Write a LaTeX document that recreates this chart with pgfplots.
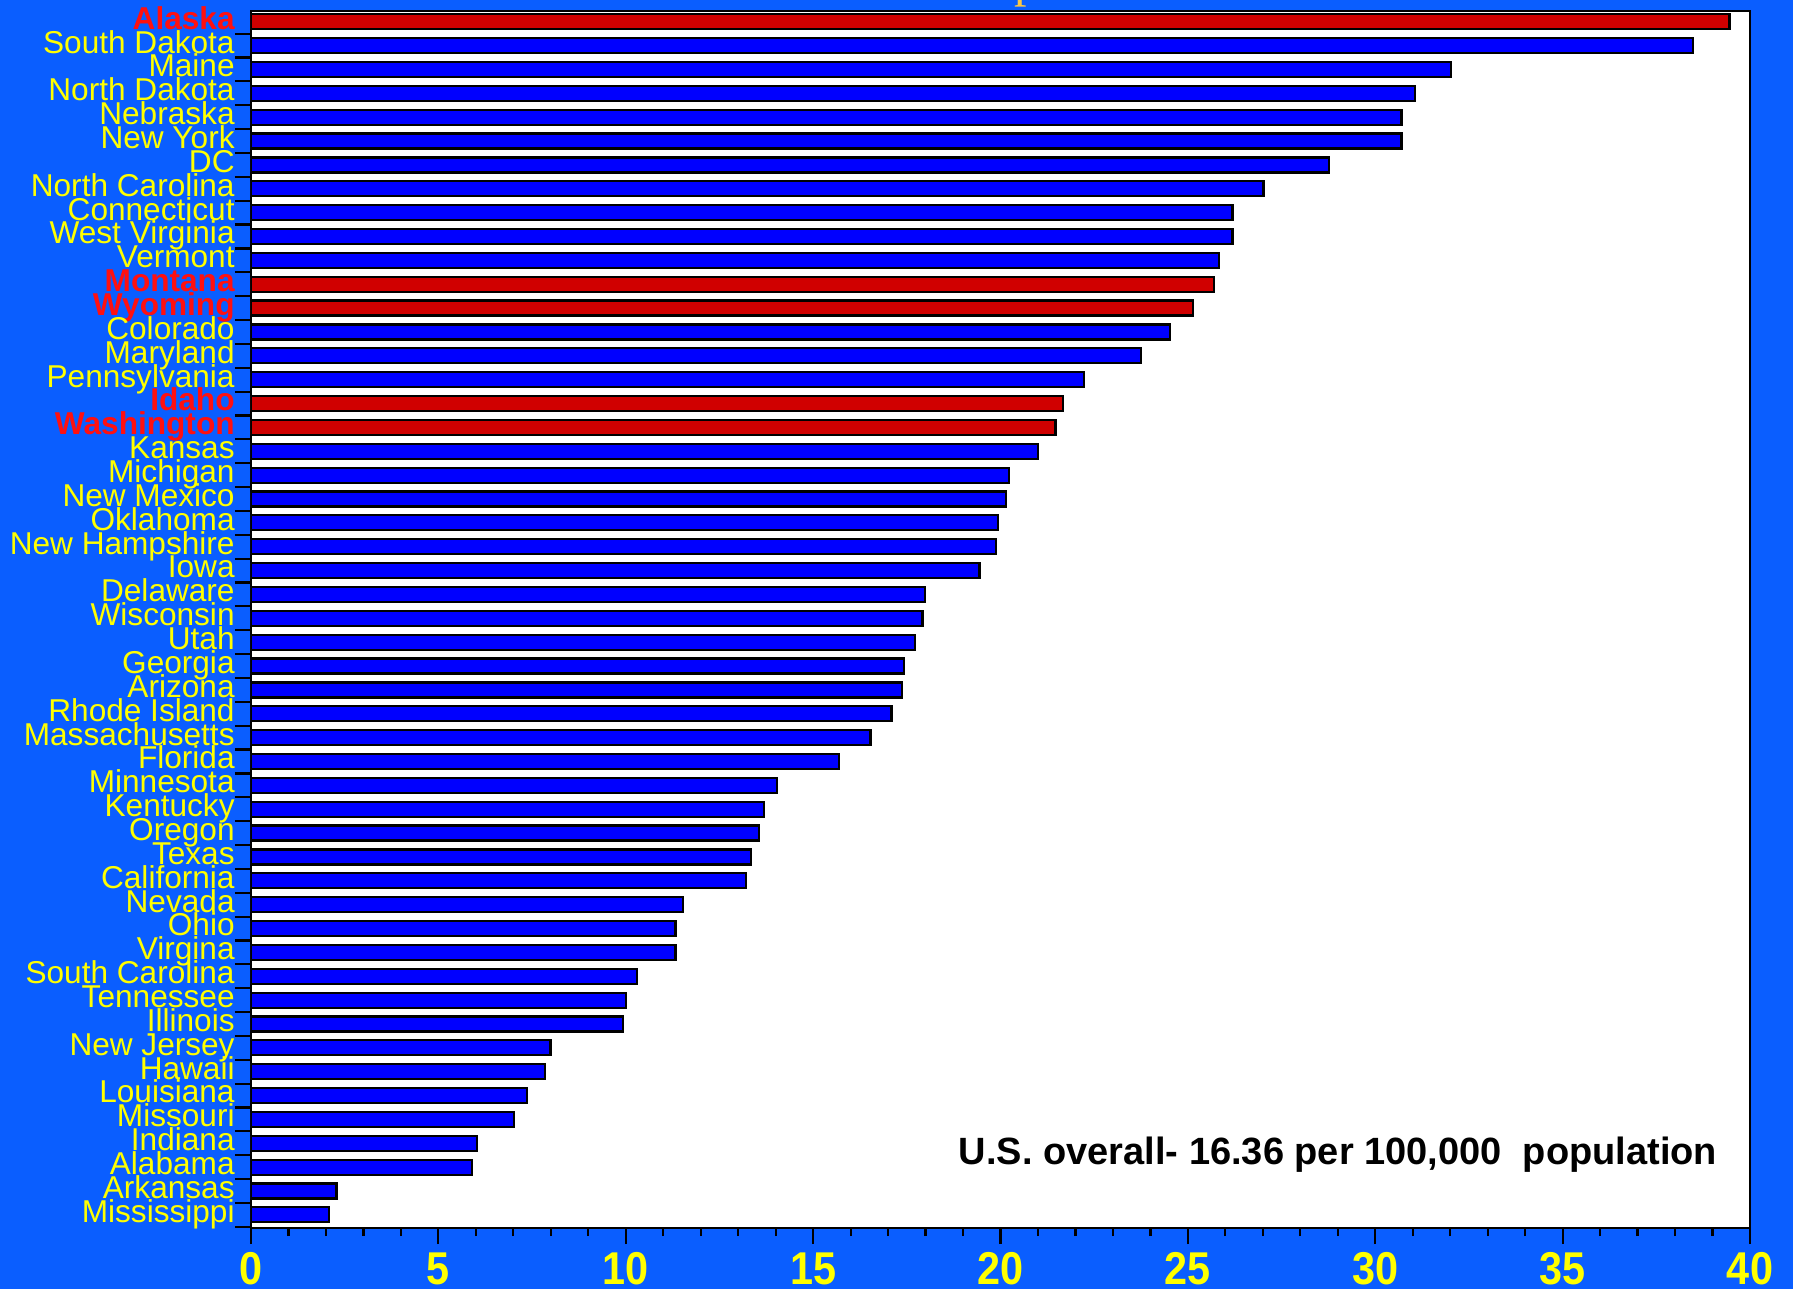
\documentclass[border=0pt]{standalone}
\usepackage{pgfplots}
\pgfplotsset{compat=1.18}
\usepackage{fontspec}
\setmainfont{Liberation Sans}
\newfontface\tickfont[FakeStretch=0.9]{Liberation Sans Bold}
\newfontfamily\seriffont{Liberation Serif}
\definecolor{bg}{RGB}{10,94,255}
\definecolor{barblue}{RGB}{0,0,255}
\definecolor{barred}{RGB}{208,0,0}
\definecolor{lblred}{RGB}{255,16,16}
\definecolor{lblyellow}{RGB}{255,255,0}
\definecolor{titlegold}{RGB}{250,200,70}
\begin{document}
\begin{tikzpicture}[x=1pt,y=1pt]
\fill[bg] (0,0) rectangle (896.5,644.5);
\node[anchor=base west, inner sep=0pt, text=titlegold, font=\seriffont\fontsize{25}{25}\selectfont] at (507,646.4) {p};
\begin{axis}[
  at={(125.5pt,30.5pt)}, anchor=south west, scale only axis,
  width=749.5pt, height=608.5pt,
  xmin=0, xmax=40, ymin=-0.45, ymax=50.55, y dir=reverse,
  axis background/.style={fill=white},
  axis line style={line width=1.4pt, black},
  tick align=outside,
  major tick length=8pt, minor tick length=4pt,
  tick style={black, line width=1.1pt},
  xtick pos=left, ytick pos=left,
  xtick={0,5,...,40},
  xticklabels={0,5,10,15,20,25,30,35,40},
  minor x tick num=4,
  xticklabel style={text=lblyellow, font=\tickfont\fontsize{23}{23}\selectfont, inner sep=0pt, anchor=north},
  xticklabel shift=4pt,
  ytick={-0.5,0.5,...,50.5},
  yticklabels={},
  extra y ticks={0,1,...,50},
  extra y tick style={major tick style={draw=none}, yticklabel style={text=lblyellow, font=\fontsize{15.8}{15.8}\selectfont, inner sep=0pt, anchor=base east, yshift=-3.7pt}},
  yticklabel shift=0pt,
  extra y tick labels={{\bfseries\color{lblred}Alaska},South Dakota,Maine,North Dakota,Nebraska,New York,DC,North Carolina,Connecticut,West Virginia,Vermont,{\bfseries\color{lblred}Montana},{\bfseries\color{lblred}Wyoming},Colorado,Maryland,Pennsylvania,{\bfseries\color{lblred}Idaho},{\bfseries\color{lblred}Washington},Kansas,Michigan,New Mexico,Oklahoma,New Hampshire,Iowa,Delaware,Wisconsin,Utah,Georgia,Arizona,Rhode Island,Massachusetts,Florida,Minnesota,Kentucky,Oregon,Texas,California,Nevada,Ohio,Virgina,South Carolina,Tennessee,Illinois,New Jersey,Hawaii,Louisiana,Missouri,Indiana,Alabama,Arkansas,Mississippi},
]
\addplot[xbar, bar shift=0pt, bar width=7.5pt, fill=barblue, draw=black, line width=1.1pt] coordinates {
(38.47,1) (32.02,2) (31.05,3) (30.70,4) (30.70,5) (28.76,6) (27.02,7) (26.19,8) (26.19,9) (25.84,10)
(24.52,13) (23.75,14) (22.23,15)
(20.99,18) (20.22,19) (20.15,20) (19.93,21) (19.87,22) (19.44,23) (17.99,24) (17.92,25) (17.71,26)
(17.43,27) (17.37,28) (17.09,29) (16.53,30) (15.69,31) (14.03,32) (13.68,33) (13.55,34) (13.34,35)
(13.20,36) (11.53,37) (11.33,38) (11.33,39) (10.29,40) (10.00,41) (9.93,42) (7.99,43) (7.84,44)
(7.37,45) (7.01,46) (6.03,47) (5.90,48) (2.28,49) (2.08,50)
};
\addplot[xbar, bar shift=0pt, bar width=7.5pt, fill=barred, draw=black, line width=1.1pt] coordinates {
(39.45,0) (25.70,11) (25.13,12) (21.67,16) (21.47,17)
};
\node[anchor=base west, inner sep=0pt, font=\bfseries\fontsize{19}{19}\selectfont] at (axis cs:18.88,47.87) {U.S. overall- 16.36 per 100,000\ \ population};
\end{axis}
\pgfresetboundingbox
\useasboundingbox (0,0) rectangle (896.5,644.5);
\end{tikzpicture}
\end{document}
